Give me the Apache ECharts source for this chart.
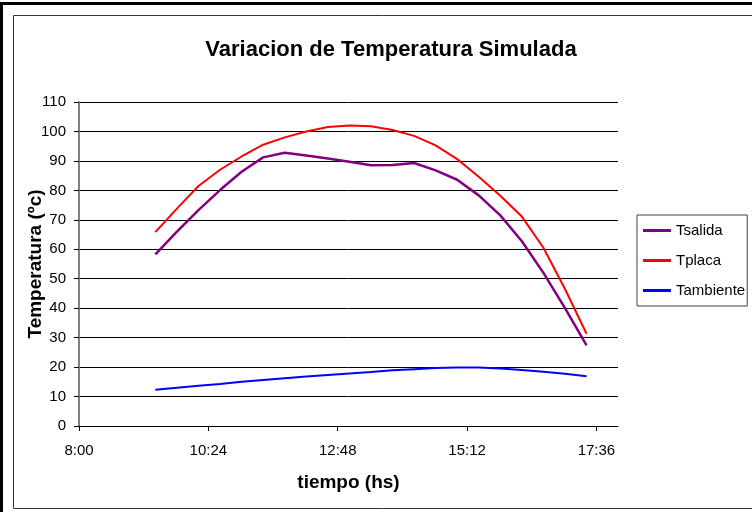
<!DOCTYPE html>
<html>
<head>
<meta charset="utf-8">
<title>Variacion de Temperatura Simulada</title>
<script src="https://cdn.jsdelivr.net/npm/echarts@6/dist/echarts.min.js"></script>
<style>
  html, body { margin: 0; padding: 0; background: #fff; }
  #chart { width: 752px; height: 512px; }
</style>
</head>
<body>
<div id="chart"></div>
<script>
// horas de la simulacion
const horas = ['9:25', '9:49', '10:13', '10:37', '11:01', '11:25', '11:49', '12:13', '12:37', '13:01', '13:25',
  '13:49', '14:13', '14:37', '15:01', '15:25', '15:49', '16:13', '16:37', '17:01', '17:25']
const tSalida = [58.3, 66, 73.3, 80.1, 86.3, 91.2, 92.8, 91.8, 90.8, 89.7, 88.5,
  88.6, 89.3, 86.8, 83.6, 78.3, 71.5, 62.7, 52, 40, 27.4]
const tPlaca = [65.8, 73.8, 81.5, 87, 91.5, 95.5, 98, 100, 101.5, 102, 101.8,
  100.5, 98.5, 95.3, 90.6, 84.6, 78.2, 71.1, 60.5, 46.5, 31.3]
const tAmbiente = [12.3, 13, 13.7, 14.3, 15, 15.6, 16.2, 16.8, 17.3, 17.8, 18.3,
  18.9, 19.3, 19.7, 19.9, 19.9, 19.5, 19, 18.4, 17.7, 16.9]
// ticks del eje x (minutos desde las 8:00, cada 2:24)
const ticksX = [0, 144, 288, 432, 576]

const INICIO = 8 * 60
const aMinutos = h => {
  const [hh, mm] = h.split(':').map(Number)
  return hh * 60 + mm - INICIO
}
const aHora = m => {
  const t = m + INICIO
  return Math.floor(t / 60) + ':' + String(t % 60).padStart(2, '0')
}
const puntos = vals => vals.map((v, i) => [aMinutos(horas[i]), v])

const myChart = echarts.init(document.getElementById('chart'))
const fuente = 'Arial, "Liberation Sans", sans-serif'
const option = {
  animation: false,
  textStyle: { fontFamily: fuente },
  title: {
    text: 'Variacion de Temperatura Simulada',
    left: 386,
    textAlign: 'center',
    top: 34,
    textStyle: { fontSize: 22, fontWeight: 'bold', color: '#000', fontFamily: fuente }
  },
  graphic: [
    {
      type: 'rect',
      shape: { x: 1.5, y: 3.5, width: 800, height: 600 },
      style: { fill: 'none', stroke: '#000', lineWidth: 3 }
    },
    {
      type: 'rect',
      shape: { x: 13.5, y: 15.5, width: 800, height: 493 },
      style: { fill: 'none', stroke: '#333', lineWidth: 1 }
    }
  ],
  legend: {
    orient: 'vertical',
    left: 637,
    top: 215,
    padding: [8, 2, 8, 6],
    itemGap: 15,
    itemWidth: 28,
    itemHeight: 3,
    icon: 'rect',
    borderColor: '#404040',
    borderWidth: 1,
    textStyle: { fontSize: 15, color: '#000', fontFamily: fuente },
    data: ['Tsalida', 'Tplaca', 'Tambiente']
  },
  grid: { left: 79, right: 134, top: 102, bottom: 86 },
  xAxis: {
    type: 'value',
    min: 0,
    max: 600,
    interval: 144,
    name: 'tiempo (hs)',
    nameLocation: 'middle',
    nameGap: 47,
    nameMoveOverlap: false,
    nameTextStyle: { fontSize: 19, fontWeight: 'bold', color: '#000', fontFamily: fuente },
    axisLine: { show: true, onZero: false, lineStyle: { color: '#000', width: 1 } },
    axisTick: { show: true, length: 5, customValues: ticksX, lineStyle: { color: '#000' } },
    axisLabel: {
      customValues: ticksX,
      formatter: v => aHora(v),
      margin: 17,
      fontSize: 15,
      color: '#000',
      fontFamily: fuente
    },
    splitLine: { show: false }
  },
  yAxis: {
    type: 'value',
    min: 0,
    max: 110,
    interval: 10,
    name: 'Temperatura (ºc)',
    nameLocation: 'middle',
    nameGap: 34,
    nameMoveOverlap: false,
    nameTextStyle: { fontSize: 19, fontWeight: 'bold', color: '#000', fontFamily: fuente },
    axisLine: { show: true, lineStyle: { color: '#808080', width: 2 } },
    axisTick: { show: true, length: 5, lineStyle: { color: '#000' } },
    axisLabel: { margin: 13, fontSize: 15, color: '#000', fontFamily: fuente },
    splitLine: { show: true, lineStyle: { color: '#000', width: 1 } }
  },
  series: [
    {
      name: 'Tsalida',
      type: 'line',
      showSymbol: false,
      symbol: 'none',
      color: '#800080',
      lineStyle: { width: 2.5, color: '#800080' },
      data: puntos(tSalida)
    },
    {
      name: 'Tplaca',
      type: 'line',
      showSymbol: false,
      symbol: 'none',
      color: '#ff0000',
      lineStyle: { width: 2, color: '#ff0000' },
      data: puntos(tPlaca)
    },
    {
      name: 'Tambiente',
      type: 'line',
      showSymbol: false,
      symbol: 'none',
      color: '#0000ff',
      lineStyle: { width: 2, color: '#0000ff' },
      data: puntos(tAmbiente)
    }
  ]
}
myChart.setOption(option)
</script>
</body>
</html>
